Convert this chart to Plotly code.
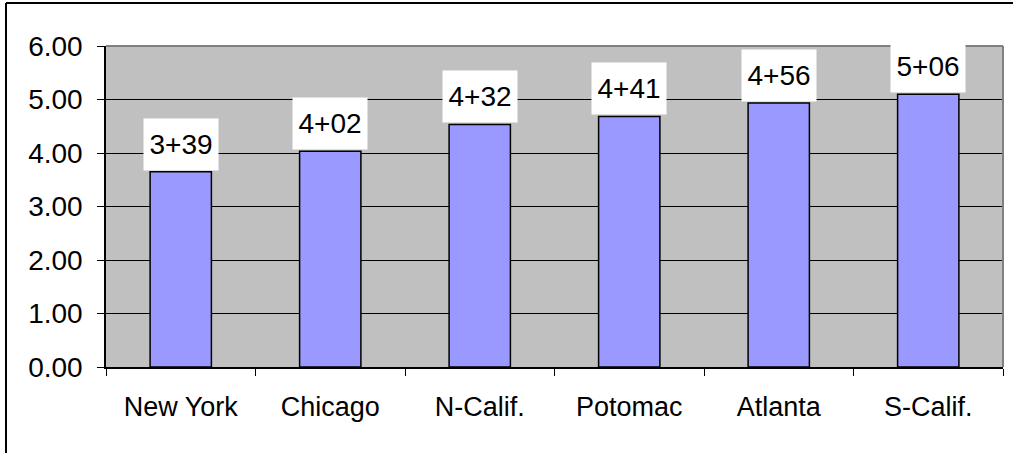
import plotly.graph_objects as go

categories = ["New York", "Chicago", "N-Calif.", "Potomac", "Atlanta", "S-Calif."]
values = [3 + 39/60, 4 + 2/60, 4 + 32/60, 4 + 41/60, 4 + 56/60, 5 + 6/60]
labels = ["3+39", "4+02", "4+32", "4+41", "4+56", "5+06"]
y_ticks = [0, 1, 2, 3, 4, 5, 6]
y_ticktext = ["0.00", "1.00", "2.00", "3.00", "4.00", "5.00", "6.00"]

W, H = 1013, 453
ML, MR, MT, MB = 106, 10, 46, 86
PW, PH = W - ML - MR, H - MT - MB

FONT = "Liberation Sans, Arial, sans-serif"

fig = go.Figure()
fig.add_trace(go.Bar(
    x=categories, y=values,
    marker=dict(color="#9999FF", line=dict(color="#000000", width=1.5)),
    width=0.41,
    hoverinfo="skip",
))

for c, v, t in zip(categories, values, labels):
    fig.add_annotation(
        x=c, y=v, text=t, showarrow=False,
        xanchor="center", yanchor="bottom", yshift=1,
        bgcolor="white", width=70, height=47, borderpad=2,
        font=dict(family=FONT, size=28, color="black"),
    )

# plot area top/right border (gray)
fig.add_shape(type="line", xref="paper", yref="paper", x0=0, x1=1, y0=1, y1=1,
              line=dict(color="#808080", width=2))
fig.add_shape(type="line", xref="paper", yref="paper", x0=1, x1=1, y0=0, y1=1,
              line=dict(color="#808080", width=2))

# outer chart border (top and left edges visible)
bx0 = (6 - ML) / PW
by1 = (H - MB - 3) / PH
fig.add_shape(type="line", xref="paper", yref="paper",
              x0=bx0, x1=(W - ML) / PW, y0=by1, y1=by1,
              line=dict(color="#000000", width=2), layer="below")
fig.add_shape(type="line", xref="paper", yref="paper",
              x0=bx0, x1=bx0, y0=by1, y1=(H - MB - H) / PH,
              line=dict(color="#000000", width=2), layer="below")

fig.update_layout(
    width=W, height=H,
    margin=dict(l=ML, r=MR, t=MT, b=MB),
    paper_bgcolor="white",
    plot_bgcolor="#C0C0C0",
    showlegend=False,
    font=dict(family=FONT, size=27, color="black"),
)
fig.update_xaxes(
    type="category",
    showline=True, linecolor="black", linewidth=1.5,
    ticks="outside", tickson="boundaries", ticklen=7, tickcolor="black",
    ticklabelstandoff=15,
    tickfont=dict(family=FONT, size=27, color="black"),
    showgrid=False,
)
fig.update_yaxes(
    range=[0, 6],
    tickvals=y_ticks, ticktext=y_ticktext,
    showline=True, linecolor="black", linewidth=1.5,
    ticks="outside", ticklen=7, tickcolor="black",
    ticklabelstandoff=9,
    tickfont=dict(family=FONT, size=28, color="black"),
    showgrid=True, gridcolor="#000000", gridwidth=1,
    zeroline=False,
)

fig.write_html(
    "out.html",
    config={"displayModeBar": False},
    post_script="document.body.style.margin='0';document.body.style.overflow='hidden';",
)
